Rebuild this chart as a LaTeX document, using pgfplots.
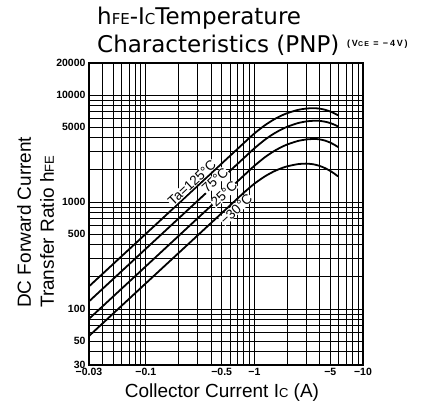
\documentclass[border=0pt]{standalone}
\usepackage{fontspec}
\setmainfont{Liberation Sans}
\newfontfamily\titlefont{DejaVu Sans}
\usepackage{pgfplots}
\pgfplotsset{compat=1.18}

\begin{document}
\begin{tikzpicture}
\path[use as bounding box] (-89pt,-43pt) rectangle (351pt,365pt);
\begin{axis}[
    at={(0pt,0pt)}, anchor=south west,
    scale only axis, width=274pt, height=302pt,
    xmode=log, ymode=log,
    xmin=0.03, xmax=10, ymin=30, ymax=20000,
    xtick={0.03,0.1,0.5,1,5,10},
    xticklabels={−0.03,−0.1,−0.5,−1,−5,−10},
    minor xtick={0.04,0.05,0.06,0.07,0.08,0.09,0.2,0.3,0.4,0.6,0.7,0.8,0.9,2,3,4,6,7,8,9},
    ytick={30,50,100,500,1000,5000,10000,20000},
    yticklabels={30,50,100,500,1000,5000,10000,20000},
    minor ytick={40,60,70,80,90,200,300,400,600,700,800,900,2000,3000,4000,6000,7000,8000,9000},
    grid=both,
    major grid style={black,line width=0.9pt},
    minor grid style={black,line width=0.9pt},
    major tick length=0pt, minor tick length=0pt,
    axis line style={black,line width=1.1pt},
    ticklabel style={font=\bfseries\fontsize{10.5}{12}\selectfont},
]
% Ta = 125 C
\addplot[black, line width=1.8pt, smooth, tension=0.4] coordinates {
  (0.03,163)(0.1,505)(0.3,1420)(0.6,2724)(0.8,3570)(1,4387)(1.25,5235)(1.5,5896)
  (1.75,6402)(2,6785)(2.5,7272)(3,7499)(3.5,7561)(4,7485)(4.5,7295)(5,7036)(5.5,6736)(5.9,6480)};
% 75 C
\addplot[black, line width=1.8pt, smooth, tension=0.4] coordinates {
  (0.03,118)(0.1,366)(0.3,1028)(0.6,1972)(0.8,2584)(1,3185)(1.25,3835)(1.5,4349)
  (1.75,4750)(2,5061)(2.5,5472)(3,5684)(3.5,5766)(3.7,5771)(4,5751)(4.5,5647)(5,5483)(5.5,5281)(5.9,5103)};
% 25 C
\addplot[black, line width=1.8pt, smooth, tension=0.4] coordinates {
  (0.03,81)(0.1,251)(0.3,706)(0.6,1353)(0.8,1774)(1,2186)(1.25,2630)(1.5,2979)
  (1.75,3249)(2,3456)(2.5,3724)(3,3855)(3.57,3897)(4,3862)(4.5,3754)(5,3601)(5.5,3421)(5.9,3268)};
% -30 C
\addplot[black, line width=1.8pt, smooth, tension=0.4] coordinates {
  (0.03,56)(0.1,174)(0.3,488)(0.6,936)(0.8,1226)(1,1488)(1.25,1742)(1.5,1930)
  (1.75,2064)(2,2160)(2.5,2264)(3,2291)(3.5,2258)(4,2179)(4.5,2074)(5,1957)(5.5,1835)(5.9,1738)};

\node[rotate=43, fill=white, inner sep=0.3pt, font=\fontsize{13.5}{14}\selectfont] at (axis cs:0.266,1520) {Ta=125°C};
\node[rotate=43, fill=white, inner sep=0.3pt, font=\fontsize{13.5}{14}\selectfont] at (axis cs:0.434,1600) {75°C};
\node[rotate=43, fill=white, inner sep=0.3pt, font=\fontsize{13.5}{14}\selectfont] at (axis cs:0.525,1188) {25°C};
\node[rotate=43, fill=white, inner sep=0.3pt, font=\fontsize{13.5}{14}\selectfont] at (axis cs:0.678,860) {−30°C};
\end{axis}

% titles and axis labels
\node[anchor=base west, inner sep=0, font=\titlefont\fontsize{23}{23}\selectfont] at (8pt,340pt)
  {h{\fontsize{15}{15}\selectfont FE}-I{\fontsize{15}{15}\selectfont C}Temperature};
\node[anchor=base west, inner sep=0, font=\titlefont\fontsize{23}{23}\selectfont] at (8pt,312pt)
  {Characteristics (PNP)};
\node[anchor=base west, inner sep=0, font=\bfseries\fontsize{9}{9}\selectfont\addfontfeature{LetterSpace=20}] at (258pt,318pt)
  {(V{\fontsize{7}{7}\selectfont CE} = −4V)};
\node[rotate=90, anchor=west, align=left, inner sep=0, font=\fontsize{19}{23}\selectfont] at (-53.5pt,57pt)
  {DC Forward Current\\Transfer Ratio h{\fontsize{13}{13}\selectfont FE}};
\node[anchor=base, inner sep=0, font=\fontsize{19}{19}\selectfont] at (133pt,-32pt)
  {Collector Current I{\fontsize{13}{13}\selectfont C} (A)};
\end{tikzpicture}
\end{document}
